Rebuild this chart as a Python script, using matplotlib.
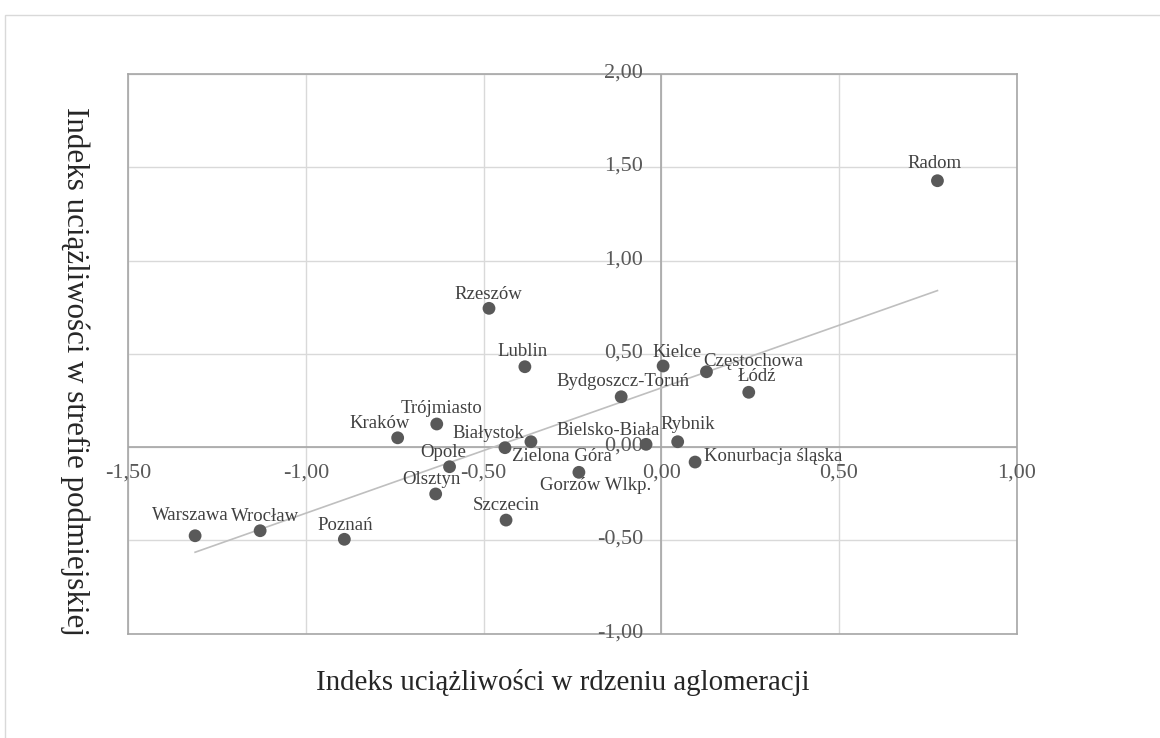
import numpy as np
import matplotlib
matplotlib.use("Agg")
import matplotlib.pyplot as plt
from matplotlib.patches import Rectangle

plt.rcParams['font.family'] = ['Liberation Serif', 'DejaVu Serif']

# ---- data ----
cities = ["Warszawa", "Wrocław", "Poznań", "Kraków", "Trójmiasto", "Białystok",
          "Opole", "Olsztyn", "Rzeszów", "Lublin", "Szczecin", "Zielona Góra",
          "Gorzów Wlkp.", "Bydgoszcz-Toruń", "Bielsko-Biała", "Kielce",
          "Częstochowa", "Łódź", "Rybnik", "Konurbacja śląska", "Radom"]
core_index = [-1.312, -1.129, -0.892, -0.742, -0.632, -0.440,
              -0.596, -0.635, -0.485, -0.384, -0.437, -0.367,
              -0.232, -0.113, -0.043, 0.005,
              0.127, 0.246, 0.046, 0.095, 0.777]
suburb_index = [-0.475, -0.448, -0.494, 0.050, 0.124, -0.003,
                -0.105, -0.251, 0.744, 0.431, -0.391, 0.029,
                -0.135, 0.270, 0.015, 0.435,
                0.404, 0.294, 0.029, -0.080, 1.428]
x_ticks = [-1.5, -1.0, -0.5, 0.0, 0.5, 1.0]
x_tick_labels = ["-1,50", "-1,00", "-0,50", "0,00", "0,50", "1,00"]
y_ticks = [-1.0, -0.5, 0.0, 0.5, 1.0, 1.5, 2.0]
y_tick_labels = ["-1,00", "-0,50", "0,00", "0,50", "1,00", "1,50", "2,00"]
x_title = "Indeks uciążliwości w rdzeniu aglomeracji"
y_title = "Indeks uciążliwości w strefie podmiejskiej"

# label offsets in pixels (dx, dy) relative to each point
label_offsets = {
    "Warszawa": (-5, 20), "Wrocław": (4.5, 14), "Poznań": (1, 14),
    "Kraków": (-18, 14), "Trójmiasto": (5, 15), "Białystok": (-17, 14),
    "Opole": (-6, 14), "Olsztyn": (-4, 14), "Rzeszów": (-1, 14),
    "Lublin": (-2, 15), "Szczecin": (0, 15), "Zielona Góra": (31, -15),
    "Gorzów Wlkp.": (17, -13), "Bydgoszcz-Toruń": (1.5, 15),
    "Bielsko-Biała": (-38, 14), "Kielce": (14, 13), "Częstochowa": (47, 10),
    "Łódź": (8, 15.5), "Rybnik": (10, 17), "Konurbacja śląska": (78, 6),
    "Radom": (-3, 17),
}

W, H = 1160, 738
fig = plt.figure(figsize=(W / 100, H / 100), dpi=100)
fig.patch.set_facecolor("white")

# outer chart border
fig.add_artist(Rectangle((4.5 / W, -0.01), 1.1, (H - 14.5) / H + 0.01,
                         transform=fig.transFigure, fill=False,
                         edgecolor="#D9D9D9", linewidth=1.0))

ax = fig.add_axes([128.3 / W, 104.3 / H, 888.4 / W, 559.7 / H])
ax.set_xlim(-1.5, 1.0)
ax.set_ylim(-1.0, 2.0)
ax.set_xticks(x_ticks)
ax.set_yticks(y_ticks)
ax.tick_params(length=0, labelbottom=False, labelleft=False)
ax.grid(True, color="#D9D9D9", linewidth=1.0)
ax.set_axisbelow(True)
for s in ax.spines.values():
    s.set_color("#A6A6A6")
    s.set_linewidth(1.2)

ax.axhline(0, color="#A6A6A6", linewidth=1.2, zorder=1)
ax.axvline(0, color="#A6A6A6", linewidth=1.2, zorder=1)

# trend line (linear fit)
xs = np.array(core_index)
ys = np.array(suburb_index)
slope, intercept = np.polyfit(xs, ys, 1)
xl = np.array([xs.min(), xs.max()])
ax.plot(xl, slope * xl + intercept, color="#BFBFBF", linewidth=1.2, zorder=2)

ax.scatter(core_index, suburb_index, s=85, color="#595959", zorder=3,
           edgecolors="none")

for name, xv, yv in zip(cities, core_index, suburb_index):
    dx, dy = label_offsets[name]
    ax.annotate(name, (xv, yv), xytext=(dx, dy), textcoords="offset pixels",
                ha="center", va="center", fontsize=13.5, color="#404040",
                zorder=4)

# tick labels near the zero axes
for v, lab in zip(y_ticks, y_tick_labels):
    ax.annotate(lab, (0, v), xytext=(-18, 1), textcoords="offset pixels",
                ha="right", va="center", fontsize=16, color="#595959",
                annotation_clip=False)
for v, lab in zip(x_ticks, x_tick_labels):
    ax.annotate(lab, (v, 0), xytext=(0, -26), textcoords="offset pixels",
                ha="center", va="center", fontsize=16, color="#595959",
                annotation_clip=False)

fig.text(563 / W, 1 - 682 / H, x_title, ha="center", va="center",
         fontsize=20.8, color="#262626")
fig.text(75 / W, 1 - 371.5 / H, y_title, ha="center", va="center",
         rotation=270, fontsize=22.3, color="#262626")

fig.savefig("out.png", dpi=100, facecolor="white")
